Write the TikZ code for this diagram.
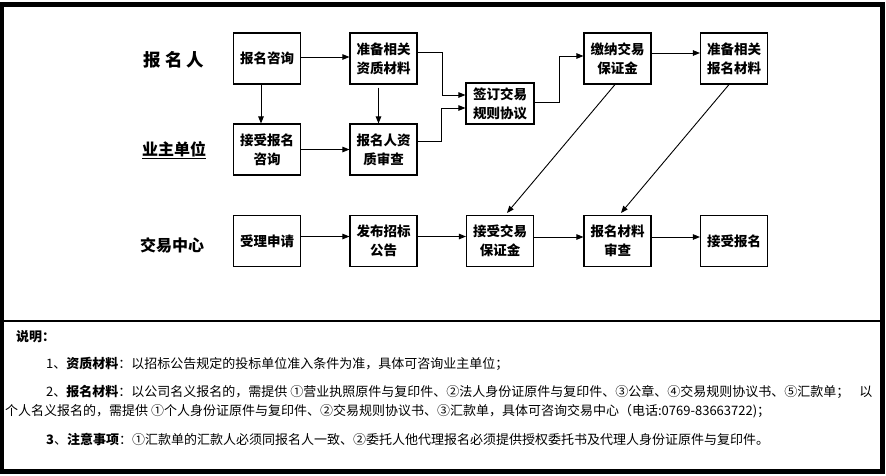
\documentclass[tikz,border=0pt]{standalone}
\usepackage{fontspec}
\setmainfont{Noto Sans CJK SC}
\usetikzlibrary{arrows.meta}
\begin{document}
\begin{tikzpicture}[x=1pt,y=-1pt,
  boxst/.style={draw=black,line width=1.1pt,minimum width=67pt,minimum height=51pt,inner sep=0pt,
    align=center,font=\fontsize{13.5pt}{19pt}\selectfont\bfseries},
  lab/.style={font=\fontsize{16pt}{18pt}\selectfont\bfseries},
  note/.style={anchor=west,inner sep=0pt,font=\fontsize{13pt}{15pt}\selectfont},
  arr/.style={line width=0.9pt,-{Triangle[length=7pt,width=5.5pt]}},
  ln/.style={line width=0.9pt}]
\useasboundingbox (0,0) rectangle (886,475);
% frame
\draw[line width=4.5pt] (2.2,4.5) rectangle (882.7,471.5);
\draw[line width=1.8pt] (2,321) -- (883,321);
% row labels
\node[lab,font=\fontsize{17.5pt}{19pt}\selectfont\bfseries] (r1) at (174,60) {报 名 人};
\node[lab] (r2) at (174,150) {\underline{业主单位}};
\node[lab] (r3) at (172,245) {交易中心};
% boxes row 1
\node[boxst] (bmzx) at (267,58.5) {报名咨询};
\node[boxst] (zbzz) at (383.5,58.5) {准备相关\\资质材料};
\node[boxst] (jn) at (617.5,58.5) {缴纳交易\\保证金};
\node[boxst] (zbbm) at (734,58.5) {准备相关\\报名材料};
% row 2
\node[boxst] (jsbm) at (267,149.5) {接受报名\\咨询};
\node[boxst] (bmsc) at (383.5,149.5) {报名人资\\质审查};
\node[boxst,minimum height=41pt,minimum width=68pt] (qd) at (500,103.5) {签订交易\\规则协议};
% row 3
\node[boxst] (slsq) at (267,241) {受理申请};
\node[boxst] (fb) at (383.5,241) {发布招标\\公告};
\node[boxst] (jsbz) at (500,241) {接受交易\\保证金};
\node[boxst] (bmcl) at (617.5,241) {报名材料\\审查};
\node[boxst] (jsb) at (734,241) {接受报名};
% connectors
\draw[arr] ([yshift=1.5pt]bmzx.east) -- ([yshift=1.5pt]zbzz.west);
\draw[arr] ([xshift=-6pt]bmzx.south) -- ([xshift=-6pt]jsbm.north);
\draw[arr] ([xshift=-5pt,yshift=-3pt]zbzz.south) -- ([xshift=-5pt]bmsc.north);
\draw[arr] (jsbm.east) -- (bmsc.west);
\draw[arr] ([yshift=6.5pt]zbzz.east) -- ++(25,0) |- ([yshift=8.5pt]qd.west);
\draw[arr] ([yshift=8.5pt]bmsc.east) -- ++(24,0) |- ([yshift=-4.5pt]qd.west);
\draw[arr] ([yshift=1.5pt]qd.east) -- ++(25,0) |- ([yshift=2.5pt]jn.west);
\draw[arr] ([yshift=5.5pt]jn.east) -- ([yshift=5.5pt]zbbm.west);
\draw[arr] ([xshift=-2.5pt]jn.south) -- ([xshift=7pt,yshift=2pt]jsbz.north);
\draw[arr] ([xshift=-5pt]zbbm.south) -- ([xshift=3.5pt,yshift=2pt]bmcl.north);
\draw[arr] ([yshift=4.5pt]slsq.east) -- ([yshift=4.5pt]fb.west);
\draw[arr] ([yshift=4.5pt]fb.east) -- ([yshift=4.5pt]jsbz.west);
\draw[arr] ([yshift=4pt]jsbz.east) -- ([yshift=4pt]bmcl.west);
\draw[arr] ([yshift=4pt]bmcl.east) -- ([yshift=4pt]jsb.west);
% notes
\node[note,font=\fontsize{13pt}{15pt}\selectfont\bfseries] (sm) at (16,337) {说明：};
\node[note] (n1) at (46,364) {1、\textbf{资质材料}：以招标公告规定的投标单位准入条件为准，具体可咨询业主单位；};
\node[note] (n2) at (46,392) {2、\textbf{报名材料}：以公司名义报名的，需提供 ①营业执照原件与复印件、②法人身份证原件与复印件、③公章、④交易规则协议书、⑤汇款单；\hspace{10pt}以};
\node[note] (n2b) at (5,411) {个人名义报名的，需提供 ①个人身份证原件与复印件、②交易规则协议书、③汇款单，具体可咨询交易中心（电话:0769-83663722)；};
\node[note] (n3) at (46,439) {\textbf{3}、\textbf{注意事项}：①汇款单的汇款人必须同报名人一致、②委托人他代理报名必须提供授权委托书及代理人身份证原件与复印件。};
\end{tikzpicture}
\end{document}
